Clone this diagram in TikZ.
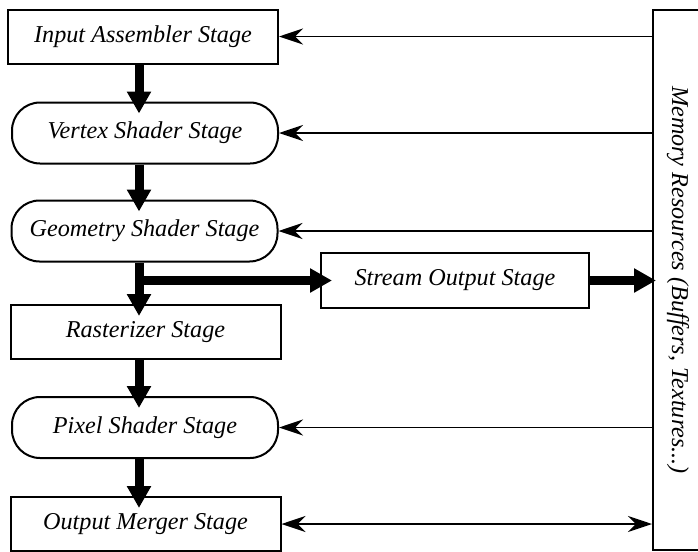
\documentclass[tikz,border=0pt]{standalone}
\usepackage{fontspec}
\setmainfont{Liberation Serif}
\usetikzlibrary{arrows.meta}

\tikzset{
  feedtip/.tip = {Stealth[length=12pt, width=8pt]},
  flowtip/.tip = {Triangle[length=11pt, width=11.5pt]}
}

\begin{document}
\begin{tikzpicture}[x=0.5pt, y=-0.5pt,
  stage/.style = {draw, line width=1pt, minimum width=135pt, minimum height=27pt,
                  inner sep=0pt, font=\fontsize{12.1}{14}\selectfont\itshape},
  shader/.style = {stage, minimum width=133pt, minimum height=30.5pt, rounded corners=14pt},
  flow/.style = {line width=4.5pt, -flowtip, shorten >=-6pt},
  feed/.style = {line width=0.9pt, -feedtip}]

  % Fix the picture's size
  \clip (0,0) rectangle (698,552);

  % Define the line the stages hang on
  \coordinate (spine) at (139,0);

  % Draw the stages
  \node[stage]  (ia) at (143,36.5)  {Input Assembler Stage};
  \node[shader] (vs) at (145,133)   {Vertex Shader Stage};
  \node[shader] (gs) at (144.5,231) {Geometry Shader Stage};
  \node[stage]  (rs) at (145.5,332) {Rasterizer Stage};
  \node[shader] (ps) at (145,427.5) {Pixel Shader Stage};
  \node[stage]  (om) at (145.5,524) {Output Merger Stage};
  \node[stage, minimum width=134pt, minimum height=27.5pt] (so) at (455,280.5) {Stream Output Stage};

  % Memory on the right
  \node[stage, rotate=-90, minimum width=270pt, minimum height=25pt] (mem) at (678,280)
    {Memory Resources (Buffers, Textures...)};

  % Pipeline flow
  \draw[flow] (ia.south -| spine) -- (vs.north -| spine);
  \draw[flow] (vs.south -| spine) -- (gs.north -| spine);
  \draw[flow] (gs.south -| spine) -- (rs.north -| spine);
  \draw[flow] (rs.south -| spine) -- (ps.north -| spine);
  \draw[flow] (ps.south -| spine) -- (om.north -| spine);
  \draw[flow] (so.west -| spine) -- (so.west);
  \draw[flow, shorten >=-2pt] (so.east) -- (mem.south |- so.east);

  % Reads from memory
  \draw[feed] (mem.south |- ia.east) -- (ia.east);
  \draw[feed] (mem.south |- vs.east) -- (vs.east);
  \draw[feed] (mem.south |- gs.east) -- (gs.east);
  \draw[feed] (mem.south |- ps.east) -- (ps.east);
  \draw[feed, feedtip-feedtip] (om.east) -- (mem.south |- om.east);

\end{tikzpicture}
\end{document}
